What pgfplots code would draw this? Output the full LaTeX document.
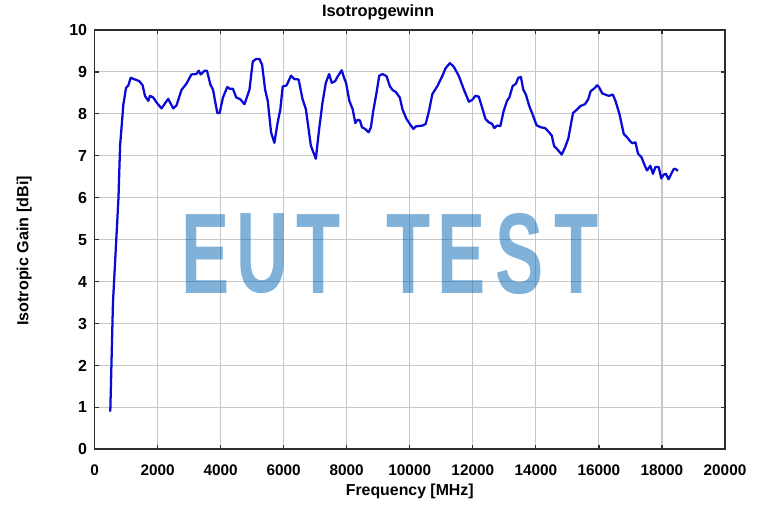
\documentclass[border=0pt]{standalone}
\usepackage{fontspec}
\setmainfont{Liberation Sans}
\usepackage{pgfplots}
\pgfplotsset{compat=1.18}
\definecolor{gridc}{RGB}{200,200,200}
\definecolor{framec}{RGB}{45,45,45}
\definecolor{curvec}{RGB}{10,10,215}
\definecolor{wm}{RGB}{0,99,179}
\tikzset{wml/.style={text=wm, text opacity=0.5, inner sep=0pt, font=\bfseries\fontsize{86}{90}\selectfont, xscale=0.63}}
\begin{document}
\begin{tikzpicture}
\begin{axis}[
  scale only axis, width=472.9pt, height=314.5pt,
  xmin=0, xmax=20000, ymin=0, ymax=10,
  xtick distance=2000, ytick distance=1,
  scaled x ticks=false,
  /pgf/number format/assume math mode=true,
  /pgf/number format/set thousands separator={},
  grid=major, major grid style={gridc, line width=0.85pt},
  axis line style={framec, line width=1.3pt},
  tick style={framec, line width=0.9pt},
  major tick length=3pt,
  tick align=inside,
  xticklabel style={font=\bfseries\fontsize{11.5}{12}\selectfont, anchor=base, yshift=-20pt},
  yticklabel style={font=\bfseries\fontsize{12}{13}\selectfont, anchor=east, inner sep=0pt, xshift=-5.4pt},
  every axis title shift=0pt,
  title={Isotropgewinn},
  title style={font=\bfseries\fontsize{12.3}{13}\selectfont, at={(axis description cs:0.4497,1.0318)}, anchor=base},
  xlabel={Frequency [MHz]},
  xlabel style={font=\bfseries\fontsize{11.9}{13}\selectfont, at={(axis description cs:0.5,-0.1091)}, anchor=base},
  ylabel={Isotropic Gain [dBi]},
  ylabel style={font=\bfseries\fontsize{12.1}{13}\selectfont, at={(axis description cs:-0.1049,0.473)}, anchor=base},
]
\addplot[curvec, line width=1.7pt, line join=round] table {
500 0.9
585 3.5
690 5.0
760 6.0
811 7.24
870 7.8
916 8.23
1000 8.62
1074 8.68
1147 8.86
1284 8.82
1421 8.78
1526 8.68
1600 8.43
1705 8.31
1758 8.43
1863 8.39
1968 8.27
2126 8.13
2337 8.36
2495 8.13
2600 8.20
2758 8.57
2916 8.72
3074 8.94
3232 8.95
3305 9.03
3368 8.94
3495 9.03
3568 9.03
3674 8.70
3758 8.58
3895 8.02
3968 8.02
4074 8.39
4211 8.64
4284 8.60
4389 8.60
4495 8.39
4621 8.35
4758 8.23
4916 8.58
5021 9.25
5126 9.31
5232 9.31
5316 9.17
5411 8.58
5495 8.31
5600 7.56
5705 7.31
5811 7.80
5895 8.11
5968 8.65
6095 8.68
6232 8.91
6337 8.83
6474 8.82
6600 8.35
6705 8.11
6863 7.24
7021 6.93
7126 7.64
7232 8.27
7337 8.74
7442 8.95
7526 8.74
7632 8.78
7705 8.88
7842 9.04
7916 8.86
7979 8.74
8084 8.31
8189 8.11
8274 7.78
8347 7.86
8421 7.84
8484 7.68
8589 7.64
8695 7.56
8768 7.68
8842 8.07
8947 8.51
9032 8.91
9137 8.95
9263 8.90
9368 8.66
9453 8.57
9558 8.52
9684 8.39
9768 8.11
9895 7.88
10011 7.75
10116 7.64
10189 7.70
10295 7.71
10400 7.72
10505 7.76
10611 8.07
10716 8.47
10874 8.66
11032 8.90
11137 9.09
11274 9.21
11400 9.12
11558 8.90
11716 8.58
11874 8.29
11979 8.33
12084 8.43
12189 8.41
12295 8.15
12400 7.88
12505 7.80
12611 7.76
12684 7.66
12768 7.72
12874 7.71
12979 8.07
13084 8.31
13158 8.39
13263 8.66
13368 8.72
13442 8.86
13526 8.88
13600 8.58
13684 8.46
13789 8.19
13895 7.99
14021 7.73
14158 7.68
14295 7.66
14421 7.56
14505 7.48
14579 7.23
14684 7.15
14821 7.03
14926 7.20
15032 7.42
15105 7.72
15179 8.02
15316 8.11
15421 8.19
15558 8.23
15663 8.35
15737 8.54
15842 8.60
15947 8.68
16000 8.64
16105 8.49
16232 8.45
16316 8.43
16442 8.46
16526 8.31
16653 7.99
16789 7.52
16895 7.44
16979 7.36
17053 7.30
17158 7.32
17242 7.05
17347 6.97
17453 6.77
17526 6.65
17632 6.76
17716 6.57
17789 6.73
17895 6.73
17979 6.46
18053 6.55
18126 6.57
18210 6.44
18295 6.57
18368 6.68
18421 6.69
18505 6.64
};
\node[wml] at (axis cs:3537,4.66) {E};
\node[wml] at (axis cs:5329,4.66) {U};
\node[wml] at (axis cs:7105,4.66) {T};
\node[wml] at (axis cs:9960,4.66) {T};
\node[wml] at (axis cs:11641,4.66) {E};
\node[wml] at (axis cs:13497,4.66) {S};
\node[wml] at (axis cs:15290,4.66) {T};
\end{axis}
\pgfresetboundingbox
\path[use as bounding box] ([shift={(-70.9pt,-44pt)}]current axis.south west) rectangle ([shift={(31.5pt,22.5pt)}]current axis.north east);
\end{tikzpicture}
\end{document}
